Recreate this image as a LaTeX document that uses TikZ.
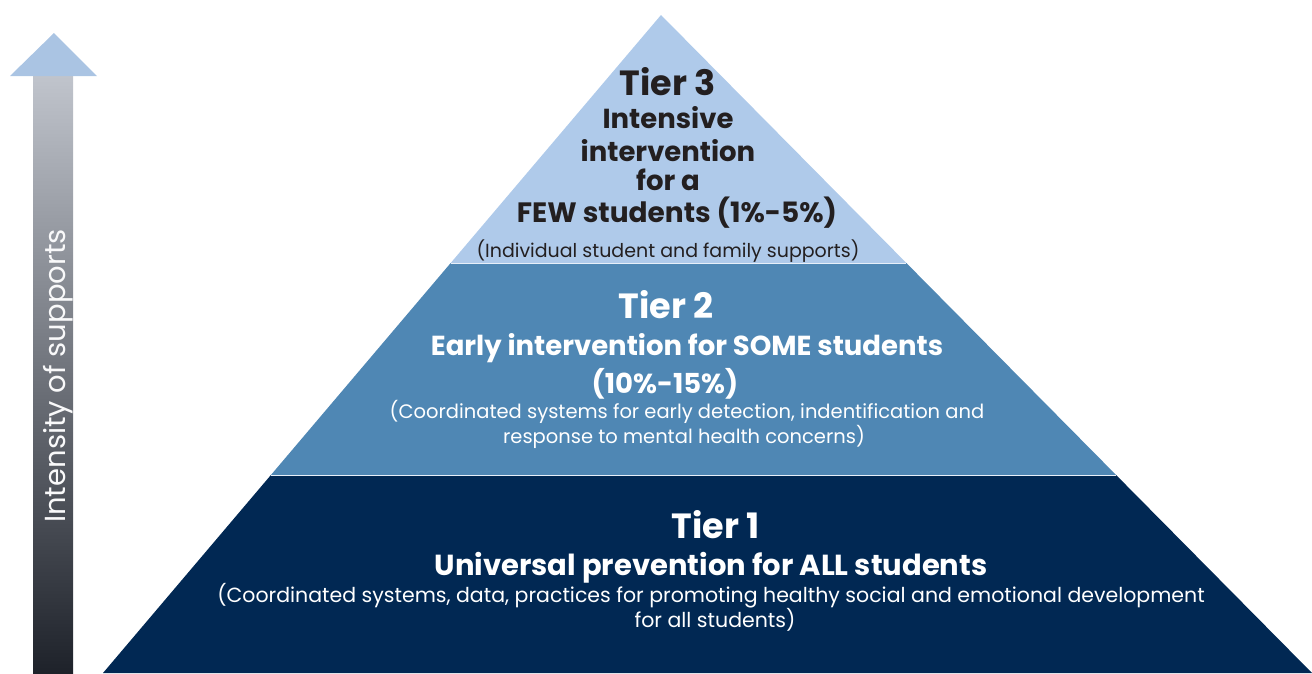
\documentclass[tikz,border=0pt]{standalone}
\usepackage{fontspec}
\setmainfont{Poppins}
\usetikzlibrary{calc}

\definecolor{tierthree}{HTML}{AFCAEA}
\definecolor{tiertwo}{HTML}{4F87B4}
\definecolor{tierone}{HTML}{012853}
\definecolor{inktext}{HTML}{231F20}
\definecolor{shafttop}{HTML}{C0C4CC}
\definecolor{shaftbot}{HTML}{1E222A}

\tikzset{
  tiertitle/.style={anchor=base,font=\bfseries\fontsize{35}{40}\selectfont},
  tierline/.style={anchor=base,font=\bfseries\fontsize{27.5}{32}\selectfont},
  tiernote/.style={anchor=base,font=\fontsize{19.5}{23}\selectfont},
}

\begin{document}
\begin{tikzpicture}[x=1pt,y=-1pt]
          \useasboundingbox (0,0) rectangle (1312,673);
          %% pyramid corners
          \coordinate (apex) at (661,15);
          \coordinate (bl) at (103,673);
          \coordinate (br) at (1312,673);
          \coordinate (l3) at ($(apex)!248/658!(bl)$);
          \coordinate (r3) at ($(apex)!248/658!(br)$);
          \coordinate (l2) at ($(apex)!460/658!(bl)$);
          \coordinate (r2) at ($(apex)!460/658!(br)$);
          \fill[tierthree] (apex) -- (l3) -- (r3) -- cycle;
          \fill[tiertwo] (l3) -- (l2) -- (r2) -- (r3) -- cycle;
          \fill[tierone] (l2) -- (bl) -- (br) -- (r2) -- cycle;
          \draw[white!70!tierthree,line width=.6pt] (l3) -- (r3) (l2) -- (r2);
          %% intensity arrow
          \shade[top color=shafttop,bottom color=shaftbot] (33,76) rectangle (73,673);
          \fill[tierthree!97!black] (10,76) -- (54,33) -- (97,76) -- cycle;
          \node[anchor=base,rotate=90,text=white!90!shafttop,font=\fontsize{29}{33}\selectfont] (intensity) at (65,376) {Intensity of supports};
          %% Tier 3
          \node[tiertitle,text=inktext] (t3title) at (668,95) {Tier 3};
          \node[tierline,text=inktext] (t3a) at (668,128) {Intensive};
          \node[tierline,text=inktext] (t3b) at (668,161) {intervention};
          \node[tierline,text=inktext] (t3c) at (668,190) {for a};
          \node[tierline,text=inktext,font=\bfseries\fontsize{28}{32}\selectfont] (t3d) at (677,222) {FEW students (1\%-5\%)};
          \node[tiernote,text=inktext,font=\fontsize{19}{23}\selectfont] (t3note) at (668,257) {(Individual student and family supports)};
          %% Tier 2
          \node[tiertitle,text=white] (t2title) at (666,318) {Tier 2};
          \node[tierline,text=white] (t2a) at (687,355) {Early intervention for SOME students};
          \node[tierline,text=white] (t2b) at (665,393) {(10\%-15\%)};
          \node[tiernote,text=white] (t2note) at (687,418) {(Coordinated systems for early detection, indentification and};
          \node[tiernote,text=white] (t2noteb) at (684,443) {response to mental health concerns)};
          %% Tier 1
          \node[tiertitle,text=white] (t1title) at (716,538) {Tier 1};
          \node[tierline,text=white,font=\bfseries\fontsize{29}{33}\selectfont] (t1a) at (711,575) {Universal prevention for ALL students};
          \node[tiernote,text=white,font=\fontsize{20.5}{24}\selectfont] (t1note) at (711,602) {(Coordinated systems, data, practices for promoting healthy social and emotional development};
          \node[tiernote,text=white,font=\fontsize{20.5}{24}\selectfont] (t1noteb) at (715,627) {for all students)};
\end{tikzpicture}
\end{document}
